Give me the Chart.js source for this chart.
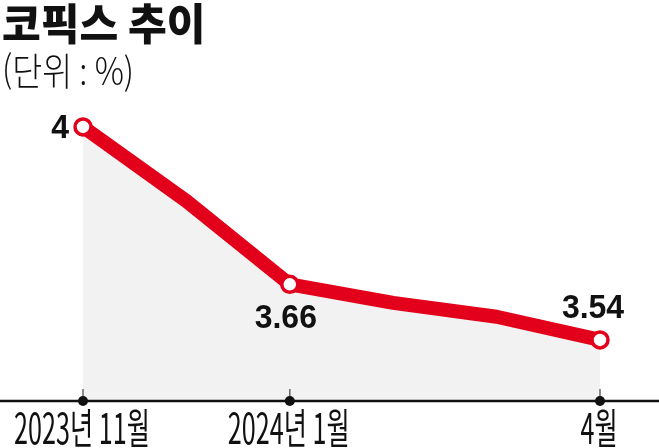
<!DOCTYPE html>
<html lang="ko">
<head>
<meta charset="utf-8">
<title>코픽스 추이</title>
<script src="https://cdn.jsdelivr.net/npm/chart.js@4/dist/chart.umd.min.js"></script>
<style>
  html, body { margin: 0; padding: 0; background: #fff; }
  #wrap { width: 659px; height: 448px; position: relative; }
</style>
</head>
<body>
<div id="wrap"><canvas id="cofixChart"></canvas></div>
<script>
// 코픽스 추이 (단위 : %)
const titleText = '코픽스 추이';
const unitText = '(단위 : %)';
const months = ['2023년 11월', '12월', '2024년 1월', '2월', '3월', '4월'];
const cofix = [4.00, 3.84, 3.66, 3.62, 3.59, 3.54];
const valueLabels = ['4', '', '3.66', '', '', '3.54'];
const shownTicks = [0, 2, 5];   // 축에 표시하는 달
const yMin = 3.408;
const yMax = 4.056;

const RED = '#e3001b';

// 제목, 축, 값 라벨을 그리는 플러그인
const cofixDecor = {
    id: 'cofixDecor',
    afterDatasetsDraw(chart) {
        const ctx = chart.ctx;
        const xScale = chart.scales.x;
        const area = chart.chartArea;
        const meta = chart.getDatasetMeta(0);

        ctx.save();
        // 제목
        ctx.fillStyle = '#111';
        ctx.textBaseline = 'alphabetic';
        ctx.textAlign = 'left';
        ctx.save();
        ctx.translate(2, 40);
        ctx.scale(0.98, 1);
        ctx.font = '900 43px "Noto Sans CJK KR"';
        ctx.fillText(titleText, 0, 0);
        ctx.restore();

        ctx.save();
        ctx.translate(2, 85);
        ctx.scale(0.88, 1.02);
        ctx.font = '300 37px "Noto Sans CJK KR"';
        ctx.fillText(unitText, 0, 0);
        ctx.restore();

        // x축 선
        const axisY = area.bottom;
        ctx.strokeStyle = '#111';
        ctx.lineWidth = 2.5;
        ctx.beginPath();
        ctx.moveTo(0, axisY);
        ctx.lineTo(chart.width, axisY);
        ctx.stroke();

        // 눈금 + 라벨
        shownTicks.forEach(i => {
            const x = xScale.getPixelForValue(i);
            ctx.strokeStyle = '#666';
            ctx.lineWidth = 1.5;
            ctx.beginPath();
            ctx.moveTo(x, axisY - 12);
            ctx.lineTo(x, axisY);
            ctx.stroke();

            ctx.fillStyle = '#111';
            ctx.beginPath();
            ctx.arc(x, axisY, 5, 0, Math.PI * 2);
            ctx.fill();

            ctx.save();
            ctx.translate(x - 1, axisY + 43);
            ctx.scale(0.63, 1.05);
            ctx.font = '400 40px "Noto Sans CJK KR"';
            ctx.textAlign = 'center';
            ctx.fillText(months[i], 0, 0);
            ctx.restore();
        });

        // 값 라벨
        ctx.fillStyle = '#111';
        ctx.font = 'bold 34px "Liberation Sans", Arial, sans-serif';
        meta.data.forEach((pt, i) => {
            const txt = valueLabels[i];
            if (!txt) return;
            ctx.save();
            if (i === 0) {
                ctx.translate(pt.x - 14, pt.y + 11);
                ctx.scale(0.94, 1);
                ctx.textAlign = 'right';
            } else if (i === cofix.length - 1) {
                ctx.translate(pt.x - 7, pt.y - 22);
                ctx.scale(0.94, 1);
                ctx.textAlign = 'center';
            } else {
                ctx.translate(pt.x - 4, pt.y + 44);
                ctx.scale(0.94, 1);
                ctx.textAlign = 'center';
            }
            ctx.fillText(txt, 0, 0);
            ctx.restore();
        });
        ctx.restore();
    }
};

const ctx = document.getElementById('cofixChart').getContext('2d');
const cofixChart = new Chart(ctx, {
    type: 'line',
    data: {
        labels: months,
        datasets: [{
            label: '코픽스',
            data: cofix,
            borderColor: RED,
            borderWidth: 14,
            borderJoinStyle: 'round',
            borderCapStyle: 'round',
            backgroundColor: '#f2f2f2',
            fill: 'start',
            tension: 0,
            clip: false,
            pointRadius: cofix.map((v, i) => valueLabels[i] ? 8 : 0),
            pointHoverRadius: 0,
            pointBackgroundColor: '#fff',
            pointBorderColor: RED,
            pointBorderWidth: 3.5
        }]
    },
    options: {
        responsive: true,
        maintainAspectRatio: false,
        animation: false,
        events: [],
        layout: {
            padding: { top: 101, bottom: 47, left: 83, right: 59 }
        },
        plugins: {
            legend: { display: false },
            title: { display: false },
            tooltip: { enabled: false }
        },
        scales: {
            x: { display: false, offset: false },
            y: { display: false, min: yMin, max: yMax }
        }
    },
    plugins: [cofixDecor]
});
</script>
</body>
</html>
